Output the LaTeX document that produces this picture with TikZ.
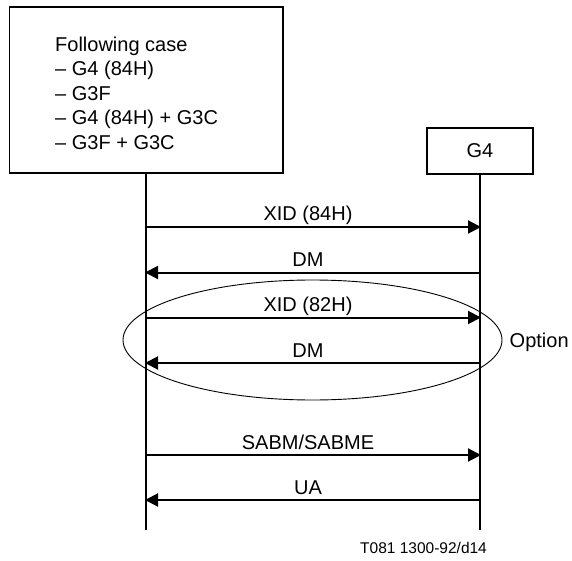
\documentclass[tikz,border=0pt]{standalone}
\usepackage{fontspec}
\setmainfont{Liberation Sans}
\usetikzlibrary{arrows.meta}
\begin{document}
\begin{tikzpicture}[x=1pt,y=-1pt,
  every node/.style={font=\fontsize{20}{24.5}\selectfont, inner sep=0pt},
  boxline/.style={draw, line width=1.2pt},
  life/.style={line width=2pt},
  msg/.style={line width=2pt, -{Triangle[length=13pt,width=13pt]}, shorten >=-1pt},
  msglabel/.style={anchor=base},
  optring/.style={line width=0.9pt}]
\useasboundingbox (0,0) rectangle (572,561);
% boxes
\draw[boxline] (9.5,7) rectangle (283,173);
\node[anchor=north west, align=left] (cases) at (55,36.4)
  {Following case\\– G4 (84H)\\– G3F\\– G4 (84H) + G3C\\– G3F + G3C};
\node[boxline, minimum width=106pt, minimum height=46pt, inner sep=0pt] (g4) at (480,151) {G4};
\coordinate (lefttop) at (146,173);
\coordinate (leftbot) at (146,530);
\coordinate (rightbot) at (480,530);
% lifelines
\draw[life] (lefttop) -- (leftbot);
\draw[life] (g4.south) -- (rightbot);
% message points
\foreach \n/\y in {1/227,2/272.5,3/317.5,4/363,5/455,6/500}{
  \coordinate (L\n) at (146,\y);
  \coordinate (R\n) at (480,\y);
}
\draw[msg] (L1) -- (R1);
\draw[msg] (R2) -- (L2);
\draw[msg] (L3) -- (R3);
\draw[msg] (R4) -- (L4);
\draw[msg] (L5) -- (R5);
\draw[msg] (R6) -- (L6);
\node[msglabel] (t1) at (308,221) {XID (84H)};
\node[msglabel] (t2) at (308,266.5) {DM};
\node[msglabel] (t3) at (308,311.5) {XID (82H)};
\node[msglabel] (t4) at (308,357) {DM};
\node[msglabel] (t5) at (308,449) {SABM/SABME};
\node[msglabel] (t6) at (308,494) {UA};
% option ellipse
\draw[optring] (312.5,340) ellipse [x radius=189.5pt, y radius=60pt];
\node[anchor=base west] (opt) at (509.5,347) {Option};
% footer
\node[anchor=base west, font=\fontsize{15.5}{18}\selectfont] (ref) at (360,553) {T081 1300-92/d14};
\end{tikzpicture}
\end{document}
